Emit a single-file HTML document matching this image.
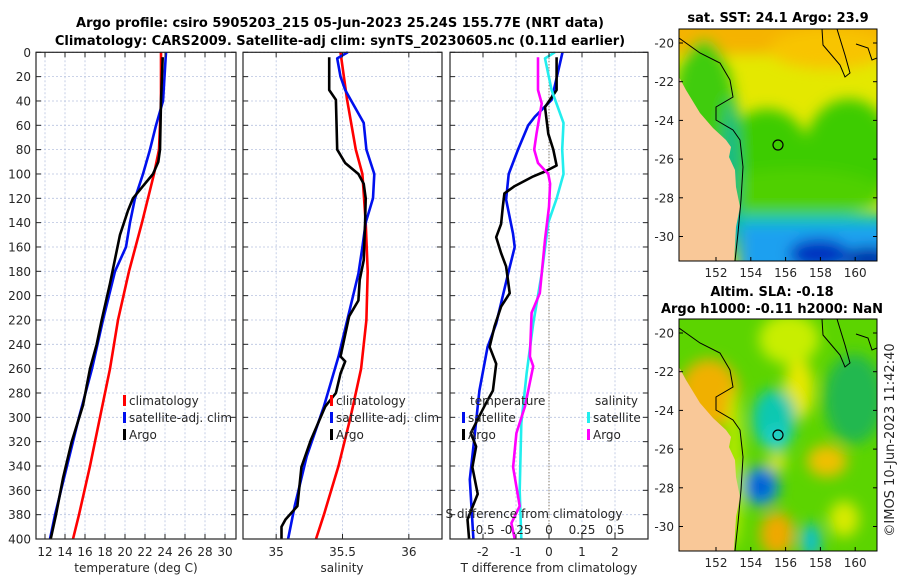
<!DOCTYPE html>
<html><head><meta charset="utf-8"><style>
html,body{margin:0;padding:0;background:#fff;}
svg{display:block;font-family:"DejaVu Sans","Liberation Sans",sans-serif;}
.t{font-size:12px;fill:#262626;}
.ttl{font-size:13px;font-weight:bold;fill:#000;}
</style></head><body>
<svg id="fig" width="900" height="580" viewBox="0 0 900 580" xmlns="http://www.w3.org/2000/svg">
<defs>
<filter id="blur" x="-10%" y="-10%" width="120%" height="120%"><feGaussianBlur stdDeviation="7"/></filter>
<clipPath id="clipM1"><rect x="679" y="29" width="198" height="232"/></clipPath>
<clipPath id="clipM2"><rect x="679" y="319" width="198" height="232"/></clipPath>
</defs>
<text class="ttl" x="340" y="27" text-anchor="middle">Argo profile: csiro 5905203_215 05-Jun-2023 25.24S 155.77E (NRT data)</text>
<text class="ttl" x="340" y="45" text-anchor="middle">Climatology: CARS2009. Satellite-adj clim: synTS_20230605.nc (0.11d earlier)</text>
<g id="panels"></g>

<g>
<text class="ttl" x="778" y="22" text-anchor="middle">sat. SST: 24.1 Argo: 23.9</text>
<g clip-path="url(#clipM1)">
<rect x="679" y="29" width="198" height="232" fill="#e4e800"/>
<g filter="url(#blur)" transform="translate(679,29)">
<rect x="-20" y="-20" width="240" height="45" fill="#f5b300"/>
<ellipse cx="150" cy="20" rx="60" ry="20" fill="#f8c400"/>
<ellipse cx="25" cy="120" rx="35" ry="110" fill="#40cc10"/>
<ellipse cx="88" cy="125" rx="42" ry="45" fill="#3ccc00"/>
<ellipse cx="170" cy="125" rx="45" ry="55" fill="#3ccc00"/>
<ellipse cx="115" cy="165" rx="90" ry="25" fill="#50d000"/>
<rect x="40" y="185" width="170" height="20" fill="#00c8b0"/>
<rect x="60" y="195" width="160" height="60" fill="#1aa0f0"/>
<ellipse cx="140" cy="225" rx="30" ry="15" fill="#0030c0"/>
<ellipse cx="190" cy="230" rx="25" ry="12" fill="#002aa8"/>
<ellipse cx="52" cy="150" rx="8" ry="80" fill="#00b890"/>
</g>
<path d="M679,77 L686,90 L700,113 L713,128 L726,140 L731,147 L729,157 L735,170 L736,187 L740,207 L736,227 L734,261 L679,261 Z" fill="#f9c898"/>
<path d="M679,38 L700,53 L720,63 L730,80 L733,97 L716,107 L716,120 L733,130 L740,140 L743,167 L741,200 L738,233 L735,261" fill="none" stroke="#000" stroke-width="1"/>
<path d="M822,29 L823,45 L840,65 L845,77 L850,73 L845,55 L837,29" fill="none" stroke="#000" stroke-width="1"/>
<path d="M856,44 L868,48 L872,60 L877,58" fill="none" stroke="#000" stroke-width="1"/>
<circle cx="778" cy="145" r="5" fill="none" stroke="#000" stroke-width="1.2"/>
</g>
<rect x="679" y="29" width="198" height="232" fill="none" stroke="#000" stroke-width="1"/>
<g id="map1ticks"></g>
</g>

<g>
<text class="ttl" x="772" y="296" text-anchor="middle">Altim. SLA: -0.18</text>
<text class="ttl" x="772" y="313" text-anchor="middle">Argo h1000: -0.11 h2000: NaN</text>
<g clip-path="url(#clipM2)">
<rect x="679" y="319" width="198" height="232" fill="#5cd400"/>
<g filter="url(#blur)" transform="translate(679,319)">
<ellipse cx="30" cy="75" rx="30" ry="35" fill="#f0b000"/>
<ellipse cx="110" cy="20" rx="30" ry="25" fill="#c8ee00"/>
<ellipse cx="120" cy="70" rx="15" ry="30" fill="#e6e800"/>
<ellipse cx="175" cy="80" rx="30" ry="45" fill="#22b850"/>
<ellipse cx="95" cy="100" rx="22" ry="30" fill="#10c8b0"/>
<ellipse cx="98" cy="120" rx="12" ry="12" fill="#20d0d0"/>
<ellipse cx="82" cy="167" rx="18" ry="20" fill="#1088e8"/>
<ellipse cx="82" cy="167" rx="8" ry="10" fill="#0040c8"/>
<ellipse cx="148" cy="142" rx="20" ry="16" fill="#f0c000"/>
<ellipse cx="98" cy="143" rx="10" ry="8" fill="#e6e600"/>
<ellipse cx="98" cy="215" rx="17" ry="22" fill="#f0a800"/>
<ellipse cx="132" cy="222" rx="10" ry="18" fill="#10c0d0"/>
<ellipse cx="165" cy="200" rx="15" ry="18" fill="#d8ea00"/>
<ellipse cx="55" cy="150" rx="8" ry="80" fill="#c0ec00"/>
</g>
<path d="M679,367 L686,380 L700,403 L713,418 L726,430 L731,437 L729,447 L735,460 L736,477 L740,497 L736,517 L734,551 L679,551 Z" fill="#f9c898"/>
<path d="M679,328 L700,343 L720,353 L730,370 L733,387 L716,397 L716,410 L733,420 L740,430 L743,457 L741,490 L738,523 L735,551" fill="none" stroke="#000" stroke-width="1"/>
<path d="M822,319 L823,335 L840,355 L845,367 L850,363 L845,345 L837,319" fill="none" stroke="#000" stroke-width="1"/>
<path d="M856,334 L868,338 L872,350 L877,348" fill="none" stroke="#000" stroke-width="1"/>
<circle cx="778" cy="435" r="5" fill="none" stroke="#000" stroke-width="1.2"/>
</g>
<rect x="679" y="319" width="198" height="232" fill="none" stroke="#000" stroke-width="1"/>
<g id="map2ticks"></g>
</g>
<text class="t" transform="translate(894,440) rotate(-90)" text-anchor="middle" style="font-size:13px">©IMOS 10-Jun-2023 11:42:40</text>
</svg>
<script>
// ---- data ----
const depthTicks = [0,20,40,60,80,100,120,140,160,180,200,220,240,260,280,300,320,340,360,380,400];
const tempTicks = [12,14,16,18,20,22,24,26,28,30];
const salTicks = [35,35.5,36];
const tdiffTicks = [-2,-1,0,1,2];
const sdiffTickLabels = ["-0.5","-0.25","0","0.25","0.5"];
const sdiffTicks = [-0.5,-0.25,0,0.25,0.5];

const tempClimDepth = [0,40,80,100,140,180,220,260,300,340,380,400];
const tempClimValues = [23.6,23.6,23.4,22.9,21.7,20.4,19.3,18.5,17.5,16.5,15.4,14.8];
const tempSatDepth = [0,40,60,80,100,120,140,160,180,220,260,300,340,380,400];
const tempSatValues = [24.1,23.8,23.1,22.5,21.8,21.0,20.5,20.1,19.0,17.8,16.7,15.4,14.2,13.0,12.5];
const tempArgoDepth = [4,40,80,90,100,110,120,130,150,170,190,220,240,260,290,320,350,380,400];
const tempArgoValues = [23.77,23.6,23.5,23.33,22.8,21.8,20.8,20.3,19.5,19.0,18.5,17.67,17.17,16.5,15.8,14.67,13.8,13.1,12.57];

const salClimDepth = [0,39,80,100,140,180,220,260,300,340,380,400];
const salClimValues = [35.485,35.535,35.6,35.65,35.675,35.69,35.68,35.64,35.56,35.47,35.36,35.30];
const salSatDepth = [0,5,20,31,58,80,100,120,140,160,182,209,250,291,332,373,400];
const salSatValues = [35.54,35.46,35.485,35.52,35.66,35.68,35.74,35.73,35.675,35.65,35.62,35.56,35.47,35.36,35.23,35.14,35.09];
const salArgoDepth = [4,31,39,80,91,100,108,120,140,171,187,204,217,250,254,264,280,291,319,341,373,384,390,400];
const salArgoValues = [35.40,35.40,35.45,35.46,35.52,35.62,35.66,35.675,35.67,35.66,35.63,35.62,35.55,35.485,35.52,35.485,35.45,35.37,35.26,35.19,35.16,35.07,35.04,35.04];

const tdiffSatDepth = [0,39,53,60,80,100,121,149,160,182,223,242,278,319,351,400];
const tdiffSatValues = [0.41,0.08,-0.43,-0.63,-0.94,-1.22,-1.3,-1.09,-1.04,-1.24,-1.6,-1.86,-2.11,-2.27,-2.4,-2.29];
const tdiffArgoDepth = [4,31,45,67,80,93,98,102,110,116,127,141,152,165,176,198,209,225,242,256,278,291,313,324,341,363,384,400];
const tdiffArgoValues = [0.23,0.23,-0.12,-0.02,0.13,0.23,-0.12,-0.48,-1.04,-1.35,-1.4,-1.45,-1.6,-1.45,-1.3,-1.19,-1.45,-1.65,-1.8,-1.6,-1.7,-1.96,-2.37,-2.21,-2.32,-2.16,-2.47,-2.42];
const sdiffSatDepth = [0,5,31,58,80,100,120,140,182,223,264,305,360,400];
const sdiffSatValues = [0.045,-0.03,0.02,0.11,0.10,0.11,0.058,-0.005,-0.055,-0.12,-0.17,-0.21,-0.222,-0.21];
const sdiffArgoDepth = [4,31,42,67,80,91,100,108,127,154,182,198,214,250,258,291,313,341,373,387,400];
const sdiffArgoValues = [-0.083,-0.083,-0.055,-0.095,-0.112,-0.083,-0.005,0.008,0,-0.03,-0.055,-0.07,-0.132,-0.145,-0.12,-0.182,-0.247,-0.272,-0.222,-0.285,-0.26];

const mapLatTicks = [-20,-22,-24,-26,-28,-30];
const mapLonTicks = [152,154,156,158,160];

// ---- drawing ----
const NS = "http://www.w3.org/2000/svg";
const root = document.getElementById("panels");
function el(tag, attrs, parent){ const e=document.createElementNS(NS,tag); for(const k in attrs) e.setAttribute(k,attrs[k]); (parent||root).appendChild(e); return e; }
const Y0=52.3, Y1=539;
const yS = d => Y0 + d/400*(Y1-Y0);
function mkX(px0,px1,v0,v1){ return v => px0 + (v-v0)/(v1-v0)*(px1-px0); }
const P = [
  {x0:36,x1:236,x:mkX(36,236,11.1,31.1),name:"temperature-panel"},
  {x0:243,x1:442,x:mkX(243,442,34.75,36.25),name:"salinity-panel"},
  {x0:450,x1:648,x:mkX(450,648,-3,3),name:"difference-panel"}
];
const sX = mkX(450,648,-0.75,0.75);

function grid(p, xt){
  const g = el("g",{});
  
  
  depthTicks.forEach(d=>{ el("line",{x1:p.x0,x2:p.x1,y1:yS(d),y2:yS(d),stroke:"#b8c4e0","stroke-width":0.8,"stroke-dasharray":"2,2"},g); });
  xt.forEach(v=>{ el("line",{x1:p.x(v),x2:p.x(v),y1:Y0,y2:Y1,stroke:"#b8c4e0","stroke-width":0.8,"stroke-dasharray":"2,2"},g); });
}
function frame(p, xt, labels){
  const g = el("g",{});
  
  
  el("rect",{x:p.x0,y:Y0,width:p.x1-p.x0,height:Y1-Y0,fill:"none",stroke:"#262626","stroke-width":1.2},g);
  depthTicks.forEach(d=>{
    el("line",{x1:p.x0,x2:p.x0+5,y1:yS(d),y2:yS(d),stroke:"#262626"},g);
    el("line",{x1:p.x1-5,x2:p.x1,y1:yS(d),y2:yS(d),stroke:"#262626"},g);
  });
  xt.forEach((v,i)=>{
    el("line",{x1:p.x(v),x2:p.x(v),y1:Y1,y2:Y1-5,stroke:"#262626"},g);
    el("line",{x1:p.x(v),x2:p.x(v),y1:Y0,y2:Y0+5,stroke:"#262626"},g);
    const t=el("text",{x:p.x(v),y:556,"text-anchor":"middle",class:"t"},g);
    t.textContent = labels ? labels[i] : String(v);
  });
}
function line(p, depths, vals, color, name, xf){
  const f = xf || p.x;
  const pts = depths.map((d,i)=> f(vals[i]).toFixed(1)+","+yS(d).toFixed(1)).join(" ");
  const pl = el("polyline",{points:pts,fill:"none",stroke:color,"stroke-width":2.6,"stroke-linejoin":"round"});
  
  
}
function legendItem(x,y,color,label,name){
  const g = el("g",{});
  
  
  el("rect",{x:x,y:y-10,width:3,height:11,fill:color},g);
  const t = el("text",{x:x+6,y:y,class:"t"},g); t.textContent=label;
}
function txt(x,y,s,anchor,name){
  const t = el("text",{x:x,y:y,class:"t","text-anchor":anchor||"start"});
  t.textContent=s;
  
  
  return t;
}

grid(P[0], tempTicks); grid(P[1], salTicks); grid(P[2], tdiffTicks);
depthTicks.forEach(d=>{ const t=el("text",{x:31,y:yS(d)+4.5,"text-anchor":"end",class:"t"}); t.textContent=String(d); });
const zl = el("line",{x1:P[2].x(0),x2:P[2].x(0),y1:Y0,y2:Y1,stroke:"#6b5a3a","stroke-width":1,"stroke-dasharray":"1,2"});



line(P[0], tempClimDepth, tempClimValues, "#ff0000", "temp-climatology-line");
line(P[0], tempSatDepth, tempSatValues, "#0010ee", "temp-satellite-line");
line(P[0], tempArgoDepth, tempArgoValues, "#000000", "temp-argo-line");
line(P[1], salClimDepth, salClimValues, "#ff0000", "sal-climatology-line");
line(P[1], salSatDepth, salSatValues, "#0010ee", "sal-satellite-line");
line(P[1], salArgoDepth, salArgoValues, "#000000", "sal-argo-line");
line(P[2], tdiffSatDepth, tdiffSatValues, "#0010ee", "tdiff-satellite-line");
line(P[2], tdiffArgoDepth, tdiffArgoValues, "#000000", "tdiff-argo-line");
line(P[2], sdiffSatDepth, sdiffSatValues, "#22eeee", "sdiff-satellite-line", sX);
line(P[2], sdiffArgoDepth, sdiffArgoValues, "#ff00ff", "sdiff-argo-line", sX);

frame(P[0], tempTicks); frame(P[1], salTicks); frame(P[2], tdiffTicks);

txt(136,572,"temperature (deg C)","middle","temperature-axis-title");
txt(342,572,"salinity","middle","salinity-axis-title");
txt(549,572,"T difference from climatology","middle","t-difference-axis-title");
txt(534,518,"S difference from climatology","middle","s-difference-axis-title");
sdiffTicks.forEach((v,i)=>{ const t=el("text",{x:sX(v),y:534,"text-anchor":"middle",class:"t"}); t.textContent=sdiffTickLabels[i]; });

legendItem(123,405,"#ff0000","climatology","legend-temp-climatology");
legendItem(123,422,"#0010ee","satellite-adj. clim","legend-temp-satellite");
legendItem(123,439,"#000000","Argo","legend-temp-argo");
legendItem(330,405,"#ff0000","climatology","legend-sal-climatology");
legendItem(330,422,"#0010ee","satellite-adj. clim","legend-sal-satellite");
legendItem(330,439,"#000000","Argo","legend-sal-argo");
txt(470,405,"temperature","start","legend-temperature-header");
txt(595,405,"salinity","start","legend-salinity-header");
legendItem(462,422,"#0010ee","satellite","legend-tdiff-satellite");
legendItem(462,439,"#000000","Argo","legend-tdiff-argo");
legendItem(587,422,"#22eeee","satellite","legend-sdiff-satellite");
legendItem(587,439,"#ff00ff","Argo","legend-sdiff-argo");

function mapTicks(gid, top, lat20){
  const g = document.getElementById(gid);
  const latY = v => lat20 + (-20 - v)*19.35;
  const lonX = v => 716 + (v-152)*17.4;
  mapLatTicks.forEach(v=>{
    el("line",{x1:679,x2:683,y1:latY(v),y2:latY(v),stroke:"#000"},g);
    el("line",{x1:873,x2:877,y1:latY(v),y2:latY(v),stroke:"#000"},g);
    const t=el("text",{x:674,y:latY(v)+4.5,"text-anchor":"end",class:"t"},g); t.textContent=String(v);
  });
  mapLonTicks.forEach(v=>{
    el("line",{x1:lonX(v),x2:lonX(v),y1:top+232,y2:top+228,stroke:"#000"},g);
    const t=el("text",{x:lonX(v),y:top+248,"text-anchor":"middle",class:"t"},g); t.textContent=String(v);
  });
}
mapTicks("map1ticks",29,43);
mapTicks("map2ticks",319,333);
</script>
</body></html>
